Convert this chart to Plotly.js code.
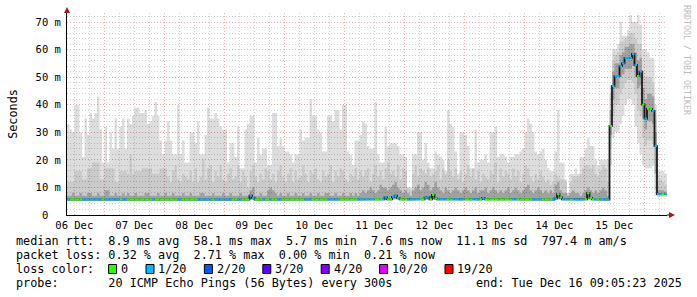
<!DOCTYPE html>
<html><head><meta charset="utf-8">
<script src="https://cdn.plot.ly/plotly-3.0.1.min.js"></script>
<style>html,body{margin:0;padding:0;background:#fff;} #chart{width:697px;height:297px;}</style>
</head><body><div id="chart"></div>
<script>
// ---------------- DATA (hourly steps, milliseconds) ----------------
const startTime = Date.UTC(2025, 11, 6, 9, 5, 23);
const stepMs = 3600000;

const hiRtt = [
33,31,30,40,40,30,21,35,29,37,35,37,43,31,19,32,19,30,24,35,24,32,35,24,
35,33,36,39,39,37,37,38,33,34,36,41,36,27,22,27,34,27,22,22,40,22,27,19,
19,30,30,26,34,22,22,29,39,35,35,37,35,32,31,31,19,26,26,21,32,17,17,31,
33,36,36,19,28,22,24,24,18,18,37,37,25,28,25,23,23,22,19,22,22,31,27,28,
28,42,36,36,31,30,23,23,36,36,34,38,38,31,40,40,23,22,18,27,27,29,34,33,
25,24,24,41,22,19,19,32,25,26,26,26,25,22,22,21,10,10,22,22,30,30,20,26,
19,17,17,23,22,21,20,16,38,33,32,23,15,30,30,29,25,17,17,31,19,20,20,22,
19,30,30,32,21,22,22,21,19,21,21,22,22,23,24,30,35,33,30,23,22,23,24,20,
17,16,16,23,38,19,19,13,8,15,15,17,15,21,21,24,28,25,25,20,18,20,20,20,
20,47,60,60,62,70,65,65,67,72.5,70,70,72.5,69,60,60,59,57,57,40,16,16,16,15];

const p90Rtt = [
12,12,12,16,16,16,13,13,17,17,19,19,19,13,13,17,17,17,17,12,12,16,16,16,
15,22,15,16,16,16,17,17,17,17,15,15,15,17,17,17,14,12,16,18,13,12,15,14,
13,16,12,17,12,14,20,13,17,18,12,16,14,18,13,12,15,17,13,14,18,12,16,14,
10,16,18,14,12,15,13,17,16,13,15,12,16,18,14,12,15,17,12,16,13,14,18,15,
12,16,15,17,13,12,16,14,15,18,12,16,14,17,16,13,12,15,14,17,13,16,14,16,
17,12,15,18,14,16,13,17,19,15,16,14,18,13,17,16,10,9,15,18,14,17,16,15,
17,14,15,16,18,13,17,15,20,16,14,17,13,16,12,15,18,14,17,13,16,12,15,14,
13,16,15,19,12,17,14,16,15,13,17,14,16,12,15,18,17,14,12,15,13,16,14,12,
13,11,12,15,14,13,13,12,8,12,14,14,14,15,17,18,18,17,18,15,14,16,18,17,
12,44,56,58,59,63,63,64,65,66,66,64,62,62,52,50,50,50,48,35,12,13,12,11];

const p75Rtt = [
7,7,8,7,7,8,7,7,8,8,7,7,8,7,7,9,9,7,7,8,7,7,8,7,
8,7,7,8,7,7,7,8,8,7,7,7,8,7,7,8,7,7,8,7,7,7,8,7,
7,8,7,7,7,8,8,7,7,7,8,7,7,7,8,7,7,8,7,7,7,8,7,7,
7,9,10,7,7,8,7,7,9,10,9,8,7,8,7,7,8,7,7,8,7,7,8,7,
7,8,7,7,8,7,7,8,8,7,7,8,7,7,8,7,7,8,7,8,7,8,9,8,
9,10,9,8,9,11,10,10,9,10,11,12,10,9,8,9,8,7,9,10,11,9,10,12,
11,9,10,12,10,9,8,10,9,8,9,10,9,8,9,10,9,8,9,10,8,9,9,10,
8,9,10,9,8,9,8,9,10,8,9,10,9,8,9,10,11,9,8,9,10,9,8,9,
8,9,8,11,12,9,8,8,7,8,9,8,8,7,8,9,10,9,8,9,8,9,10,9,
7,38,52,55,55,58,59,61,61,62,62,59,56,57,46,42,44,44,43,30,9,9,9,8.5];

const medRtt = [
5.6,5.6,5.7,5.6,5.6,5.6,5.7,5.6,5.6,5.6,5.6,5.7,5.6,5.6,5.6,5.7,5.7,5.6,5.6,5.6,5.6,5.7,5.6,5.6,
5.6,5.7,5.6,5.6,5.6,5.6,5.7,5.6,5.6,5.6,5.6,5.6,5.7,5.6,5.6,5.6,5.6,5.7,5.6,5.6,5.6,5.6,5.7,5.6,
5.6,5.6,5.6,5.7,5.6,5.6,5.6,5.6,5.7,5.6,5.6,5.6,5.6,5.6,5.7,5.6,5.6,5.6,5.6,5.7,5.6,5.6,5.6,5.6,
5.6,7.0,6.2,5.6,5.6,5.7,5.6,5.6,5.7,5.7,5.7,5.6,5.6,5.7,5.6,5.6,5.6,5.6,5.7,5.6,5.6,5.6,5.6,5.6,
5.6,5.6,5.7,5.6,5.6,5.6,5.6,5.7,5.6,5.6,5.6,5.6,5.6,5.7,5.6,5.6,5.6,5.6,5.6,5.7,5.6,5.6,5.7,5.7,
5.7,5.7,5.7,5.6,5.7,5.7,5.7,6.4,5.7,5.7,6.6,7.0,6.2,5.7,5.6,5.7,5.6,5.6,5.7,5.7,5.7,5.7,5.7,6.3,
6.6,5.7,7.3,6.0,5.7,5.7,5.7,5.7,5.7,5.6,5.7,5.7,5.7,5.6,5.7,5.7,5.7,5.6,5.7,5.7,5.6,5.7,6.2,5.7,
5.6,5.7,5.7,5.7,5.6,5.7,5.6,5.7,5.7,5.6,5.7,5.7,5.7,5.6,5.7,5.7,5.7,5.7,5.6,5.7,5.7,5.7,5.6,5.7,
5.6,5.7,5.6,6.0,7.6,6.4,5.7,5.7,5.6,5.6,5.7,5.6,5.6,5.6,5.6,5.7,7.9,6.2,5.7,5.7,5.6,5.6,5.7,5.6,
5.6,32.3,46.8,50.4,50.4,54,55,57,57,57,58.4,54.4,50.4,52,40,35,38.5,38.5,37.8,25,7.6,7.6,7.6,7.6];

const p25Rtt = [
5.6,5.6,5.6,5.6,5.6,5.6,5.6,5.6,5.6,5.6,5.6,5.6,5.6,5.6,5.6,5.6,5.6,5.6,5.6,5.6,5.6,5.6,5.6,5.6,
5.6,5.6,5.6,5.6,5.6,5.6,5.6,5.6,5.6,5.6,5.6,5.6,5.6,5.6,5.6,5.6,5.6,5.6,5.6,5.6,5.6,5.6,5.6,5.6,
5.6,5.6,5.6,5.6,5.6,5.6,5.6,5.6,5.6,5.6,5.6,5.6,5.6,5.6,5.6,5.6,5.6,5.6,5.6,5.6,5.6,5.6,5.6,5.6,
5.6,5.8,5.7,5.6,5.6,5.6,5.6,5.6,5.6,5.6,5.6,5.6,5.6,5.6,5.6,5.6,5.6,5.6,5.6,5.6,5.6,5.6,5.6,5.6,
5.6,5.6,5.6,5.6,5.6,5.6,5.6,5.6,5.6,5.6,5.6,5.6,5.6,5.6,5.6,5.6,5.6,5.6,5.6,5.6,5.6,5.6,5.6,5.6,
5.6,5.6,5.6,5.6,5.6,5.6,5.6,5.8,5.6,5.6,5.8,5.9,5.7,5.6,5.6,5.6,5.6,5.6,5.6,5.6,5.6,5.6,5.6,5.7,
5.8,5.6,5.9,5.7,5.6,5.6,5.6,5.6,5.6,5.6,5.6,5.6,5.6,5.6,5.6,5.6,5.6,5.6,5.6,5.6,5.6,5.6,5.7,5.6,
5.6,5.6,5.6,5.6,5.6,5.6,5.6,5.6,5.6,5.6,5.6,5.6,5.6,5.6,5.6,5.6,5.6,5.6,5.6,5.6,5.6,5.6,5.6,5.6,
5.6,5.6,5.6,5.6,5.9,5.7,5.6,5.6,5.6,5.6,5.6,5.6,5.6,5.6,5.6,5.6,6.0,5.7,5.6,5.6,5.6,5.6,5.6,5.6,
5.6,29,42,46,46,50,51,53,53,53,54,50,46,47,35,31,34,34,33,15,7.3,7.3,7.3,7.3];

const p10Rtt = [
5.5,5.5,5.5,5.5,5.5,5.5,5.5,5.5,5.5,5.5,5.5,5.5,5.5,5.5,5.5,5.5,5.5,5.5,5.5,5.5,5.5,5.5,5.5,5.5,
5.5,5.5,5.5,5.5,5.5,5.5,5.5,5.5,5.5,5.5,5.5,5.5,5.5,5.5,5.5,5.5,5.5,5.5,5.5,5.5,5.5,5.5,5.5,5.5,
5.5,5.5,5.5,5.5,5.5,5.5,5.5,5.5,5.5,5.5,5.5,5.5,5.5,5.5,5.5,5.5,5.5,5.5,5.5,5.5,5.5,5.5,5.5,5.5,
5.5,5.6,5.5,5.5,5.5,5.5,5.5,5.5,5.5,5.5,5.5,5.5,5.5,5.5,5.5,5.5,5.5,5.5,5.5,5.5,5.5,5.5,5.5,5.5,
5.5,5.5,5.5,5.5,5.5,5.5,5.5,5.5,5.5,5.5,5.5,5.5,5.5,5.5,5.5,5.5,5.5,5.5,5.5,5.5,5.5,5.5,5.5,5.5,
5.5,5.5,5.5,5.5,5.5,5.5,5.5,5.6,5.5,5.5,5.6,5.6,5.5,5.5,5.5,5.5,5.5,5.5,5.5,5.5,5.5,5.5,5.5,5.5,
5.6,5.5,5.6,5.5,5.5,5.5,5.5,5.5,5.5,5.5,5.5,5.5,5.5,5.5,5.5,5.5,5.5,5.5,5.5,5.5,5.5,5.5,5.5,5.5,
5.5,5.5,5.5,5.5,5.5,5.5,5.5,5.5,5.5,5.5,5.5,5.5,5.5,5.5,5.5,5.5,5.5,5.5,5.5,5.5,5.5,5.5,5.5,5.5,
5.5,5.5,5.5,5.5,5.6,5.5,5.5,5.5,5.5,5.5,5.5,5.5,5.5,5.5,5.5,5.5,5.6,5.5,5.5,5.5,5.5,5.5,5.5,5.5,
5.5,24,36,40,40,44,46,48,49,49,48,44,38,36,28,25,27,27,26,9,7,7,7,7];

const loRtt = [
5.4,5.4,5.4,5.4,5.4,5.4,5.4,5.4,5.4,5.4,5.4,5.4,5.4,5.4,5.4,5.4,5.4,5.4,5.4,5.4,5.4,5.4,5.4,5.4,
5.4,5.4,5.4,5.4,5.4,5.4,5.4,5.4,5.4,5.4,5.4,5.4,5.4,5.4,5.4,5.4,5.4,5.4,5.4,5.4,5.4,5.4,5.4,5.4,
5.4,5.4,5.4,5.4,5.4,5.4,5.4,5.4,5.4,5.4,5.4,5.4,5.4,5.4,5.4,5.4,5.4,5.4,5.4,5.4,5.4,5.4,5.4,5.4,
5.4,5.4,5.4,5.4,5.4,5.4,5.4,5.4,5.4,5.4,5.4,5.4,5.4,5.4,5.4,5.4,5.4,5.4,5.4,5.4,5.4,5.4,5.4,5.4,
5.4,5.4,5.4,5.4,5.4,5.4,5.4,5.4,5.4,5.4,5.4,5.4,5.4,5.4,5.4,5.4,5.4,5.4,5.4,5.4,5.4,5.4,5.4,5.4,
5.4,5.4,5.4,5.4,5.4,5.4,5.4,5.4,5.4,5.4,5.4,5.4,5.4,5.4,5.4,5.4,5.4,5.4,5.4,5.4,5.4,5.4,5.4,5.4,
5.4,5.4,5.4,5.4,5.4,5.4,5.4,5.4,5.4,5.4,5.4,5.4,5.4,5.4,5.4,5.4,5.4,5.4,5.4,5.4,5.4,5.4,5.4,5.4,
5.4,5.4,5.4,5.4,5.4,5.4,5.4,5.4,5.4,5.4,5.4,5.4,5.4,5.4,5.4,5.4,5.4,5.4,5.4,5.4,5.4,5.4,5.4,5.4,
5.4,5.4,5.4,5.4,5.4,5.4,5.4,5.4,5.4,5.4,5.4,5.4,5.4,5.4,5.4,5.4,5.4,5.4,5.4,5.4,5.4,5.4,5.4,5.4,
5.4,18,28,30,30,33,36,40,42,42,40,32,26,22,18,17,17,17,18,7,6.5,6.5,6.5,6.5];

// loss level per hour: index into lossColors (0 = no loss, 1 = 1/20)
const lossLevel = [
1,0,0,0,0,0,1,1,1,1,1,1,1,1,0,1,1,1,1,1,1,0,1,1,
0,0,0,0,0,0,0,0,0,0,1,0,0,0,0,0,0,0,0,0,1,1,0,0,
0,0,0,0,1,1,1,1,1,1,0,1,1,1,1,1,1,1,0,0,1,1,0,0,
0,1,1,0,0,0,1,0,0,1,0,0,1,1,0,0,0,0,0,0,0,0,0,1,
1,1,0,0,0,0,0,0,1,1,1,1,1,0,0,0,0,0,0,0,1,1,1,1,
1,1,1,0,0,0,1,1,0,0,1,1,1,0,0,0,1,1,1,1,1,0,0,1,
1,0,0,0,1,1,1,1,0,0,1,1,1,1,1,0,0,0,1,1,1,0,1,0,
0,0,0,0,0,0,0,0,0,0,1,1,0,0,0,0,0,0,1,1,1,1,0,0,
0,0,1,1,0,0,1,1,1,0,1,1,1,1,1,0,0,0,0,1,0,1,1,1,
1,0,1,1,1,1,1,1,1,1,1,1,0,1,0,1,0,0,1,1,1,1,0,1];

const lossColors = ['#26ff00','#00b8ff','#0059ff','#5e00ff','#7e00ff','#dd00ff','#ff0000'];
const lossLabels = ['0','1/20','2/20','3/20','4/20','10/20','19/20'];
const dayLabels = ['06 Dec','07 Dec','08 Dec','09 Dec','10 Dec','11 Dec','12 Dec','13 Dec','14 Dec','15 Dec'];
const yTickVals = [0,10,20,30,40,50,60,70];
const yTickText = ['0  ','10 m','20 m','30 m','40 m','50 m','60 m','70 m'];
const rttStats = ['8.9 ms avg','58.1 ms max','5.7 ms min','7.6 ms now','11.1 ms sd','797.4 m am/s'];
const lossStats = ['0.32 % avg','2.71 % max','0.00 % min','0.21 % now'];
const probeText = '20 ICMP Echo Pings (56 Bytes) every 300s';
const endText = 'end: Tue Dec 16 09:05:23 2025';

// ---------------- BUILD ----------------
const N = hiRtt.length;
function iso(ms){ return new Date(ms).toISOString().replace('T',' ').replace('Z',''); }
function T(i){ return iso(startTime + i*stepMs); }
function nb(s){ return s.replace(/ /g,'\u00a0'); }

function band(bot, top, color){
  const xs=[], ys=[];
  for(let i=0;i<N;i++){ xs.push(T(i),T(i+1)); ys.push(top[i],top[i]); }
  for(let i=N-1;i>=0;i--){ xs.push(T(i+1),T(i)); ys.push(bot[i],bot[i]); }
  xs.push(xs[0]); ys.push(ys[0]);
  return {type:'scatter',mode:'lines',x:xs,y:ys,fill:'toself',fillcolor:color,
          line:{width:0},hoverinfo:'skip',showlegend:false};
}

const traces = [];
traces.push(band(loRtt, hiRtt, 'rgba(0,0,0,0.135)'));
traces.push(band(p10Rtt, p90Rtt, 'rgba(0,0,0,0.085)'));
traces.push(band(p25Rtt, p75Rtt, 'rgba(0,0,0,0.2)'));

// black median step line (gives vertical connectors)
(function(){
  const xs=[], ys=[];
  for(let i=0;i<N;i++){ xs.push(T(i),T(i+1)); ys.push(medRtt[i],medRtt[i]); }
  traces.push({type:'scatter',mode:'lines',x:xs,y:ys,line:{color:'#1a1a1a',width:1.8},hoverinfo:'skip',showlegend:false});
})();

// coloured median segments by loss level
lossColors.forEach(function(col, k){
  const xs=[], ys=[];
  for(let i=0;i<N;i++){
    if(lossLevel[i]===k){ xs.push(T(i),T(i+1),null); ys.push(medRtt[i],medRtt[i],null); }
  }
  if(xs.length) traces.push({type:'scatter',mode:'lines',x:xs,y:ys,line:{color:col,width:2},hoverinfo:'skip',showlegend:false});
});

// invisible trace for overlay axis (midnight grid)
traces.push({type:'scatter',mode:'lines',x:[T(0),T(N)],y:[0,0],xaxis:'x2',line:{width:0},hoverinfo:'skip',showlegend:false});

const dayTickVals = dayLabels.map(function(_,i){ return iso(Date.UTC(2025,11,6+i,12,0,0)); });

const ML=67, MT=13, PW=600, PH=202;
function pxX(x){ return (x-ML)/PW; }
function pxY(y){ return (MT+PH-y)/PH; }

const mono = 'DejaVu Sans Mono, monospace';
const gridGray = '#d2d2d2', gridRed = '#e6aaaa', dashDot = '1px,2px';
const legendFont = {family:mono,size:11.8,color:'#000'};

const annotations = [];
function txt(x,y,s,opts){
  annotations.push(Object.assign({xref:'paper',yref:'paper',x:pxX(x),y:pxY(y),text:nb(s),showarrow:false,
    xanchor:'left',yanchor:'middle',borderpad:0,borderwidth:0,font:legendFont},opts||{}));
}
txt(15.5,241,'median rtt:  '+rttStats.join('  '));
txt(15.5,255,'packet loss: '+lossStats.join('  '));
txt(15.5,269,'loss color:');
txt(15.5,283,'probe:       '+probeText);
txt(681.5,283,endText,{xanchor:'right'});
txt(687,60,'RRDTOOL / TOBI OETIKER',{xanchor:'center',textangle:90,font:{family:mono,size:8.3,color:'#bdbdbd'}});

const shapes = [];
let bx = 108.6;
lossLabels.forEach(function(lbl,k){
  shapes.push({type:'rect',xref:'paper',yref:'paper',x0:pxX(bx),x1:pxX(bx+8),y0:pxY(273.5),y1:pxY(264.5),
    fillcolor:lossColors[k],line:{color:'#000',width:1}});
  txt(bx+12.3,269,lbl);
  bx += 30.4 + 7.0*lbl.length;
});
// axis arrows
shapes.push({type:'path',xref:'paper',yref:'paper',
  path:'M '+pxX(64)+' '+pxY(13)+' L '+pxX(70)+' '+pxY(13)+' L '+pxX(67)+' '+pxY(7)+' Z',
  fillcolor:'#a01818',line:{width:0}});
shapes.push({type:'line',xref:'paper',yref:'paper',x0:pxX(667),x1:pxX(670),y0:0,y1:0,line:{color:'#000',width:1}});
shapes.push({type:'path',xref:'paper',yref:'paper',
  path:'M '+pxX(669)+' '+pxY(212)+' L '+pxX(669)+' '+pxY(218)+' L '+pxX(675)+' '+pxY(215)+' Z',
  fillcolor:'#a01818',line:{width:0}});

const layout = {
  width:697, height:297,
  margin:{l:ML,r:697-ML-PW,t:MT,b:297-MT-PH,pad:0},
  paper_bgcolor:'#fff', plot_bgcolor:'#fff',
  showlegend:false,
  xaxis:{type:'date',range:[T(0),T(N)],tickmode:'array',tickvals:dayTickVals,ticktext:dayLabels,
    showgrid:true,gridcolor:gridGray,griddash:dashDot,gridwidth:1,
    minor:{tickmode:'linear',tick0:iso(Date.UTC(2025,11,6,0,0,0)),dtick:21600000,showgrid:true,gridcolor:gridGray,griddash:dashDot,ticks:''},
    showline:true,linecolor:'#000',linewidth:1,ticks:'',zeroline:false,
    tickfont:{family:mono,size:10.5,color:'#000'},fixedrange:true,automargin:false},
  xaxis2:{type:'date',overlaying:'x',side:'bottom',range:[T(0),T(N)],tickmode:'linear',
    tick0:iso(Date.UTC(2025,11,7,0,0,0)),dtick:86400000,showgrid:true,gridcolor:gridRed,griddash:dashDot,
    showticklabels:false,ticks:'',showline:false,zeroline:false,fixedrange:true},
  yaxis:{range:[0,PH/2.757],tickmode:'array',tickvals:yTickVals,ticktext:yTickText.map(nb),
    showgrid:true,gridcolor:gridRed,griddash:dashDot,gridwidth:1,
    minor:{tickmode:'linear',tick0:0,dtick:2,showgrid:true,gridcolor:gridGray,griddash:dashDot,ticks:''},
    showline:true,linecolor:'#000',linewidth:1,ticks:'',zeroline:false,ticklabelstandoff:3,
    tickfont:{family:mono,size:10.5,color:'#000'},fixedrange:true,automargin:false,
    title:{text:'Seconds',font:{family:mono,size:11.8,color:'#000'},standoff:15}},
  annotations:annotations,
  shapes:shapes
};

Plotly.newPlot('chart', traces, layout, {staticPlot:true,displayModeBar:false});
</script>
</body></html>
